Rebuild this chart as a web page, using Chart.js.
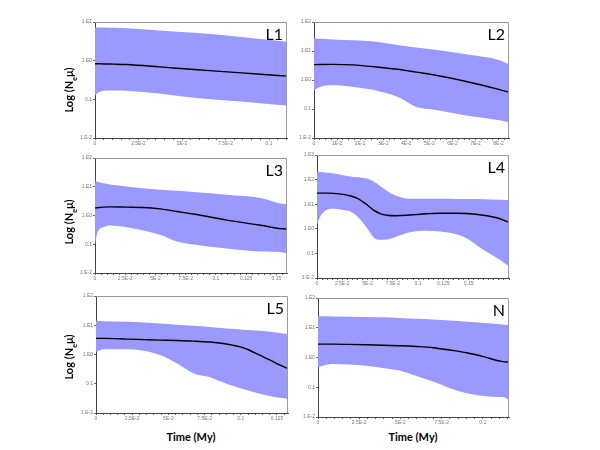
<!DOCTYPE html>
<html>
<head>
<meta charset="utf-8">
<script src="https://cdn.jsdelivr.net/npm/chart.js@4"></script>
<style>
body { margin: 0; background: #fff; width: 600px; height: 450px; position: relative; overflow: hidden; font-family: Lato, "Open Sans", sans-serif; }
canvas { position: absolute; }
.ylab { position: absolute; font-weight: bold; font-size: 11px; white-space: nowrap; transform: translate(-50%, -50%) rotate(-90deg); }
.xlab { position: absolute; font-weight: bold; font-size: 11px; white-space: nowrap; transform: translate(-50%, -50%); }
</style>
</head>
<body>
<script>
// --- data (time in My, values are log10 of N_e*mu) ---
const l1Time   = [0, 0.002, 0.005, 0.011, 0.018, 0.037, 0.057, 0.076, 0.095, 0.110];
const l1Upper  = [0.86, 0.86, 0.86, 0.85, 0.84, 0.78, 0.72, 0.65, 0.56, 0.49];
const l1Median = [-0.08, -0.08, -0.085, -0.09, -0.10, -0.16, -0.23, -0.29, -0.35, -0.40];
const l1Lower  = [-0.90, -0.82, -0.78, -0.77, -0.78, -0.85, -0.96, -1.03, -1.10, -1.16];

const l2Time   = [0, 0.0025, 0.0082, 0.0169, 0.0227, 0.027, 0.0371, 0.0443, 0.0516, 0.066, 0.0804, 0.0845];
const l2Upper  = [1.43, 1.42, 1.40, 1.37, 1.345, 1.32, 1.20, 1.12, 1.05, 0.885, 0.68, 0.54];
const l2Median = [0.53, 0.535, 0.54, 0.52, 0.48, 0.45, 0.36, 0.27, 0.18, -0.05, -0.33, -0.42];
const l2Lower  = [-0.36, -0.24, -0.18, -0.23, -0.30, -0.36, -0.61, -0.93, -1.02, -1.22, -1.39, -1.47];

const l3Time   = [0, 0.0019, 0.0069, 0.0124, 0.0262, 0.040, 0.0539, 0.0677, 0.0815, 0.109, 0.137, 0.1577, 0.1588];
const l3Upper  = [1.19, 1.17, 1.12, 1.08, 1.01, 0.95, 0.90, 0.86, 0.82, 0.725, 0.61, 0.40, 0.40];
const l3Median = [0.26, 0.27, 0.29, 0.30, 0.29, 0.28, 0.23, 0.14, 0.05, -0.16, -0.34, -0.47, -0.47];
const l3Lower  = [-1.01, -0.61, -0.41, -0.35, -0.41, -0.52, -0.67, -0.90, -1.01, -1.15, -1.25, -1.30, -2.0];

const l4Time   = [0, 0.0033, 0.01, 0.0165, 0.026, 0.033, 0.04, 0.0495, 0.056, 0.0625, 0.069, 0.079, 0.092, 0.1085, 0.122, 0.138, 0.148, 0.1645, 0.181, 0.19];
const l4Upper  = [2.32, 2.31, 2.28, 2.25, 2.18, 2.13, 2.10, 2.04, 1.92, 1.74, 1.55, 1.33, 1.22, 1.22, 1.22, 1.21, 1.21, 1.20, 1.18, 1.16];
const l4Median = [1.45, 1.45, 1.45, 1.44, 1.40, 1.34, 1.24, 0.98, 0.76, 0.62, 0.55, 0.53, 0.56, 0.61, 0.635, 0.635, 0.62, 0.55, 0.41, 0.26];
const l4Lower  = [0.16, 0.50, 0.77, 0.81, 0.76, 0.70, 0.50, 0.03, -0.35, -0.45, -0.44, -0.31, -0.14, -0.08, -0.11, -0.22, -0.38, -0.85, -1.26, -1.53];

const l5Time   = [0, 0.0053, 0.0213, 0.0328, 0.0443, 0.0557, 0.0672, 0.0787, 0.0901, 0.1016, 0.1131, 0.1245, 0.1326];
const l5Upper  = [1.15, 1.14, 1.116, 1.09, 1.06, 1.02, 0.98, 0.94, 0.89, 0.85, 0.81, 0.75, 0.69];
const l5Median = [0.55, 0.55, 0.527, 0.51, 0.493, 0.48, 0.459, 0.425, 0.357, 0.232, -0.02, -0.30, -0.49];
const l5Lower  = [0.10, 0.18, 0.18, 0.13, -0.02, -0.30, -0.64, -0.78, -1.00, -1.18, -1.34, -1.46, -1.51];

const nTime    = [0, 0.0047, 0.0088, 0.0291, 0.0393, 0.0495, 0.0597, 0.0699, 0.080, 0.0902, 0.1004, 0.1106, 0.1151, 0.1157];
const nUpper   = [1.39, 1.385, 1.38, 1.365, 1.35, 1.33, 1.30, 1.276, 1.24, 1.20, 1.16, 1.12, 1.09, 1.09];
const nMedian  = [0.45, 0.45, 0.45, 0.43, 0.41, 0.396, 0.37, 0.33, 0.25, 0.16, 0.03, -0.12, -0.15, -0.15];
const nLower   = [-0.33, -0.25, -0.22, -0.28, -0.35, -0.44, -0.62, -0.81, -1.03, -1.20, -1.29, -1.33, -1.40, -2.0];

// tick labels
const yLabelsByLog = { '3': '1.E3', '2': '1.E2', '1': '1.E1', '0': '1.E0', '-1': '0.1', '-2': '1.E-2' };
const xTicksQuarter = [0, 0.025, 0.05, 0.075, 0.1, 0.125, 0.15];
const xLabelsQuarter = ['0', '2.5E-2', '5E-2', '7.5E-2', '0.1', '0.125', '0.15'];
const xTicksHundredth = [0, 0.01, 0.02, 0.03, 0.04, 0.05, 0.06, 0.07, 0.08];
const xLabelsHundredth = ['0', '1E-2', '2E-2', '3E-2', '4E-2', '5E-2', '6E-2', '7E-2', '8E-2'];

const panelNames = ['L1', 'L2', 'L3', 'L4', 'L5', 'N'];

// plot rectangles in page pixels: left, top, right, bottom
const panels = [
    { name: 'L1', t: l1Time, up: l1Upper, med: l1Median, lo: l1Lower, xMax: 0.1103, yMax: 1, rect: [95, 22, 287, 138], xt: xTicksQuarter, xl: xLabelsQuarter, minor: 0.005 },
    { name: 'L2', t: l2Time, up: l2Upper, med: l2Median, lo: l2Lower, xMax: 0.0845, yMax: 2, rect: [314, 22, 509, 138], xt: xTicksHundredth, xl: xLabelsHundredth, minor: 0.0025 },
    { name: 'L3', t: l3Time, up: l3Upper, med: l3Median, lo: l3Lower, xMax: 0.1588, yMax: 2, rect: [95, 158, 287, 273], xt: xTicksQuarter, xl: xLabelsQuarter, minor: 0.005 },
    { name: 'L4', t: l4Time, up: l4Upper, med: l4Median, lo: l4Lower, xMax: 0.19, yMax: 3, rect: [317, 155, 509, 278], xt: xTicksQuarter, xl: xLabelsQuarter, minor: 0.005 },
    { name: 'L5', t: l5Time, up: l5Upper, med: l5Median, lo: l5Lower, xMax: 0.1326, yMax: 2, rect: [96, 296, 288, 413], xt: xTicksQuarter, xl: xLabelsQuarter, minor: 0.005 },
    { name: 'N',  t: nTime,  up: nUpper,  med: nMedian,  lo: nLower,  xMax: 0.1159, yMax: 2, rect: [318, 298, 509, 417], xt: xTicksQuarter, xl: xLabelsQuarter, minor: 0.005 }
];

const BAND = 'rgb(153,153,255)';
const Y_AXIS_W = 22;
const X_AXIS_H = 12;
const PAD = 4;

// frame round the plot + panel name in the corner
const framePlugin = {
    id: 'frame',
    afterDraw(chart, args, opts) {
        const a = chart.chartArea;
        const ctx = chart.ctx;
        ctx.save();
        ctx.strokeStyle = '#9a9a9a';
        ctx.lineWidth = 1;
        ctx.beginPath();
        ctx.moveTo(a.left, a.top + 0.5);
        ctx.lineTo(a.right - 0.5, a.top + 0.5);
        ctx.lineTo(a.right - 0.5, a.bottom);
        ctx.stroke();
        ctx.fillStyle = '#000';
        ctx.font = '16px Lato, "Open Sans", sans-serif';
        ctx.textAlign = 'right';
        ctx.textBaseline = 'top';
        ctx.fillText(opts.label, a.right - 4, a.top + 5);
        ctx.restore();
    }
};

function toPoints(xs, ys) {
    return xs.map((x, i) => ({ x: x, y: ys[i] }));
}

panels.forEach(p => {
    const [l, t, r, b] = p.rect;
    const cv = document.createElement('canvas');
    const w = r - l + Y_AXIS_W + PAD;
    const h = b - t + PAD + X_AXIS_H;
    cv.width = w;
    cv.height = h;
    cv.style.left = (l - Y_AXIS_W) + 'px';
    cv.style.top = (t - PAD) + 'px';
    document.body.appendChild(cv);

    const yTicks = [];
    for (let v = -2; v <= p.yMax; v++) yTicks.push(v);

    const minorTicks = [];
    for (let v = 0; v <= p.xMax + 1e-9; v += p.minor) minorTicks.push(+v.toFixed(5));

    new Chart(cv.getContext('2d'), {
        type: 'line',
        data: {
            datasets: [
                { label: 'upper', data: toPoints(p.t, p.up), borderWidth: 0, borderColor: BAND, backgroundColor: BAND, fill: '+1', pointRadius: 0, cubicInterpolationMode: 'monotone', order: 2 },
                { label: 'lower', data: toPoints(p.t, p.lo), borderWidth: 0, borderColor: BAND, backgroundColor: BAND, fill: false, pointRadius: 0, cubicInterpolationMode: 'monotone', order: 2 },
                { label: 'median', data: toPoints(p.t, p.med), borderWidth: 1.4, borderColor: '#000', fill: false, pointRadius: 0, cubicInterpolationMode: 'monotone', order: 1 }
            ]
        },
        options: {
            responsive: false,
            animation: false,
            events: [],
            layout: { padding: { top: PAD, right: PAD, left: 0, bottom: 0 } },
            plugins: {
                legend: { display: false },
                tooltip: { enabled: false },
                frame: { label: p.name }
            },
            scales: {
                x: {
                    type: 'linear',
                    min: 0,
                    max: p.xMax,
                    afterBuildTicks: s => { s.ticks = minorTicks.map(v => ({ value: v })); },
                    afterFit: s => { s.height = X_AXIS_H; },
                    border: { color: '#444', width: 1 },
                    grid: { drawOnChartArea: false, drawTicks: true, tickLength: 2, color: '#666' },
                    ticks: {
                        autoSkip: false,
                        maxRotation: 0,
                        padding: 1,
                        color: '#777',
                        font: { size: 5, family: 'Arial, "Liberation Sans", sans-serif' },
                        callback: v => {
                            const i = p.xt.findIndex(m => Math.abs(m - v) < 1e-6);
                            return i >= 0 ? p.xl[i] : '';
                        }
                    }
                },
                y: {
                    type: 'linear',
                    min: -2,
                    max: p.yMax,
                    afterBuildTicks: s => { s.ticks = yTicks.map(v => ({ value: v })); },
                    afterFit: s => { s.width = Y_AXIS_W; },
                    border: { color: '#444', width: 1 },
                    grid: { drawOnChartArea: false, drawTicks: true, tickLength: 2, color: '#666' },
                    ticks: {
                        autoSkip: false,
                        padding: 1,
                        color: '#777',
                        font: { size: 5, family: 'Arial, "Liberation Sans", sans-serif' },
                        callback: v => yLabelsByLog[String(v)] || ''
                    }
                }
            }
        },
        plugins: [framePlugin]
    });
});

// axis titles
[[70, 90], [70, 222], [70, 357]].forEach(([x, y]) => {
    const d = document.createElement('div');
    d.className = 'ylab';
    d.style.left = x + 'px';
    d.style.top = y + 'px';
    d.innerHTML = 'Log (N<sub style="font-size:7px">e</sub>μ)';
    document.body.appendChild(d);
});
[[191, 436], [413, 436]].forEach(([x, y]) => {
    const d = document.createElement('div');
    d.className = 'xlab';
    d.style.left = x + 'px';
    d.style.top = y + 'px';
    d.textContent = 'Time (My)';
    document.body.appendChild(d);
});
</script>
</body>
</html>
